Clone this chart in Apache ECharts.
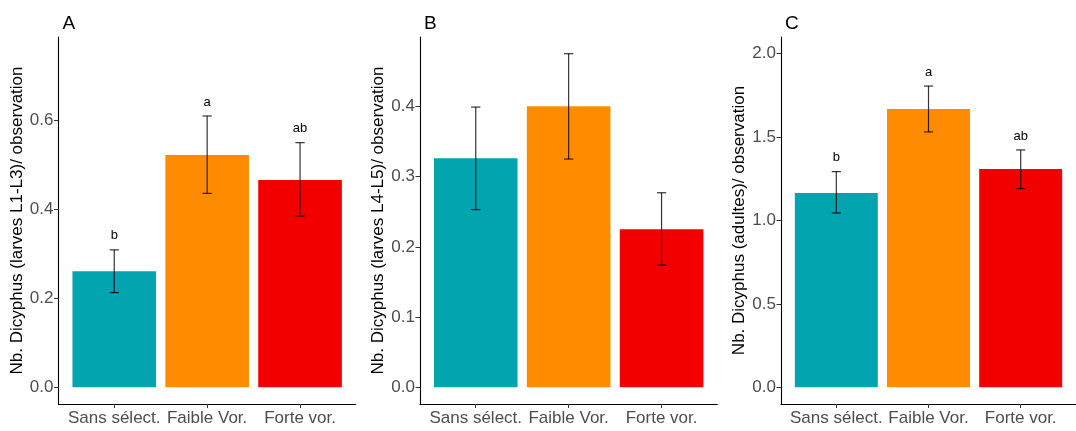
<!DOCTYPE html>
<html>
<head>
<meta charset="utf-8">
<script src="https://cdn.jsdelivr.net/npm/echarts@6/dist/echarts.min.js"></script>
<style>
html,body{margin:0;padding:0;background:#fff;}
#main{width:1076px;height:431px;}
</style>
</head>
<body>
<div id="main"></div>
<script>
// ---- data ----
const categories = ['Sans sélect.', 'Faible Vor.', 'Forte vor.'];
const barColors = ['#02A4B0', '#FF8C00', '#F20000'];

const meanA = [0.261, 0.522, 0.466];
const lowA  = [0.213, 0.436, 0.385];
const highA = [0.309, 0.610, 0.550];
const lettersA = ['b', 'a', 'ab'];
const ticksA = [0, 0.2, 0.4, 0.6];

const meanB = [0.326, 0.400, 0.225];
const lowB  = [0.253, 0.325, 0.174];
const highB = [0.399, 0.475, 0.277];
const lettersB = ['', '', ''];
const ticksB = [0, 0.1, 0.2, 0.3, 0.4];

const meanC = [1.165, 1.668, 1.308];
const lowC  = [1.045, 1.531, 1.191];
const highC = [1.293, 1.806, 1.423];
const lettersC = ['b', 'a', 'ab'];
const ticksC = [0, 0.5, 1.0, 1.5, 2.0];

const panelTitles = ['A', 'B', 'C'];
const yTitles = [
  'Nb. Dicyphus (larves L1-L3)/ observation',
  'Nb. Dicyphus (larves L4-L5)/ observation',
  'Nb. Dicyphus (adultes)/ observation'
];

// ---- chart ----
const FONT = "'Liberation Sans', Arial, Helvetica, sans-serif";
const panels = [
  {mean: meanA, low: lowA, high: highA, letters: lettersA, ticks: ticksA, ymin: -0.0375, ymax: 0.7875, left: 58.5},
  {mean: meanB, low: lowB, high: highB, letters: lettersB, ticks: ticksB, ymin: -0.02375, ymax: 0.49875, left: 420},
  {mean: meanC, low: lowC, high: highC, letters: lettersC, ticks: ticksC, ymin: -0.1, ymax: 2.1, left: 781}
];

const grids = [], xAxes = [], yAxes = [], series = [], titles = [];
panels.forEach((p, i) => {
  grids.push({left: p.left, top: 37, width: 297.3, height: 367, containLabel: false});
  xAxes.push({
    type: 'value', gridIndex: i, min: 0.4, max: 3.6,
    splitLine: {show: false},
    axisLine: {show: true, onZero: false, lineStyle: {color: '#000', width: 1.1}},
    axisTick: {show: true, customValues: [1, 2, 3], length: 4, lineStyle: {color: '#333', width: 1}},
    axisLabel: {
      customValues: [1, 2, 3], margin: 6,
      formatter: v => categories[Math.round(v) - 1] || '',
      color: '#4D4D4D', fontSize: 17, fontFamily: FONT
    }
  });
  yAxes.push({
    type: 'value', gridIndex: i, min: p.ymin, max: p.ymax,
    splitLine: {show: false},
    axisLine: {show: true, onZero: false, lineStyle: {color: '#000', width: 1.1}},
    axisTick: {show: true, customValues: p.ticks, length: 4.5, lineStyle: {color: '#333', width: 1}},
    axisLabel: {
      customValues: p.ticks, margin: 5,
      formatter: v => v.toFixed(1),
      color: '#4D4D4D', fontSize: 17, fontFamily: FONT
    },
    name: yTitles[i], nameLocation: 'middle', nameGap: 33,
    nameTextStyle: {color: '#000', fontSize: 17, fontFamily: FONT}
  });
  titles.push({
    text: panelTitles[i], left: p.left - 1, top: 9,
    textStyle: {color: '#000', fontSize: 19, fontWeight: 'normal', fontFamily: FONT}
  });
  const data = categories.map((c, k) => [k + 1, p.mean[k], p.low[k], p.high[k], k]);
  series.push({
    type: 'custom', xAxisIndex: i, yAxisIndex: i, clip: false,
    data: data,
    renderItem: function (params, api) {
      const x = api.value(0), m = api.value(1), lo = api.value(2), hi = api.value(3);
      const k = api.value(4);
      const p0 = api.coord([x - 0.45, m]);
      const p1 = api.coord([x + 0.45, 0]);
      const cHi = api.coord([x, hi]);
      const cLo = api.coord([x, lo]);
      const capL = api.coord([x - 0.05, hi])[0];
      const capR = api.coord([x + 0.05, hi])[0];
      const ls = {stroke: 'rgba(0,0,0,0.8)', lineWidth: 1.2};
      const children = [
        {type: 'rect', shape: {x: p0[0], y: p0[1], width: p1[0] - p0[0], height: p1[1] - p0[1]}, style: {fill: barColors[k]}},
        {type: 'line', shape: {x1: cHi[0], y1: cHi[1], x2: cLo[0], y2: cLo[1]}, style: ls},
        {type: 'line', shape: {x1: capL, y1: cHi[1], x2: capR, y2: cHi[1]}, style: ls},
        {type: 'line', shape: {x1: capL, y1: cLo[1], x2: capR, y2: cLo[1]}, style: ls}
      ];
      const letter = p.letters[k];
      if (letter) {
        children.push({type: 'text', x: cHi[0], y: cHi[1] - 14,
          style: {text: letter, fill: '#000', fontSize: 13, fontFamily: FONT, align: 'center', verticalAlign: 'middle'}});
      }
      return {type: 'group', children: children};
    }
  });
});

const chart = echarts.init(document.getElementById('main'), null, {renderer: 'canvas'});
chart.setOption({
  backgroundColor: '#fff',
  animation: false,
  title: titles,
  grid: grids,
  xAxis: xAxes,
  yAxis: yAxes,
  series: series
});
</script>
</body>
</html>
